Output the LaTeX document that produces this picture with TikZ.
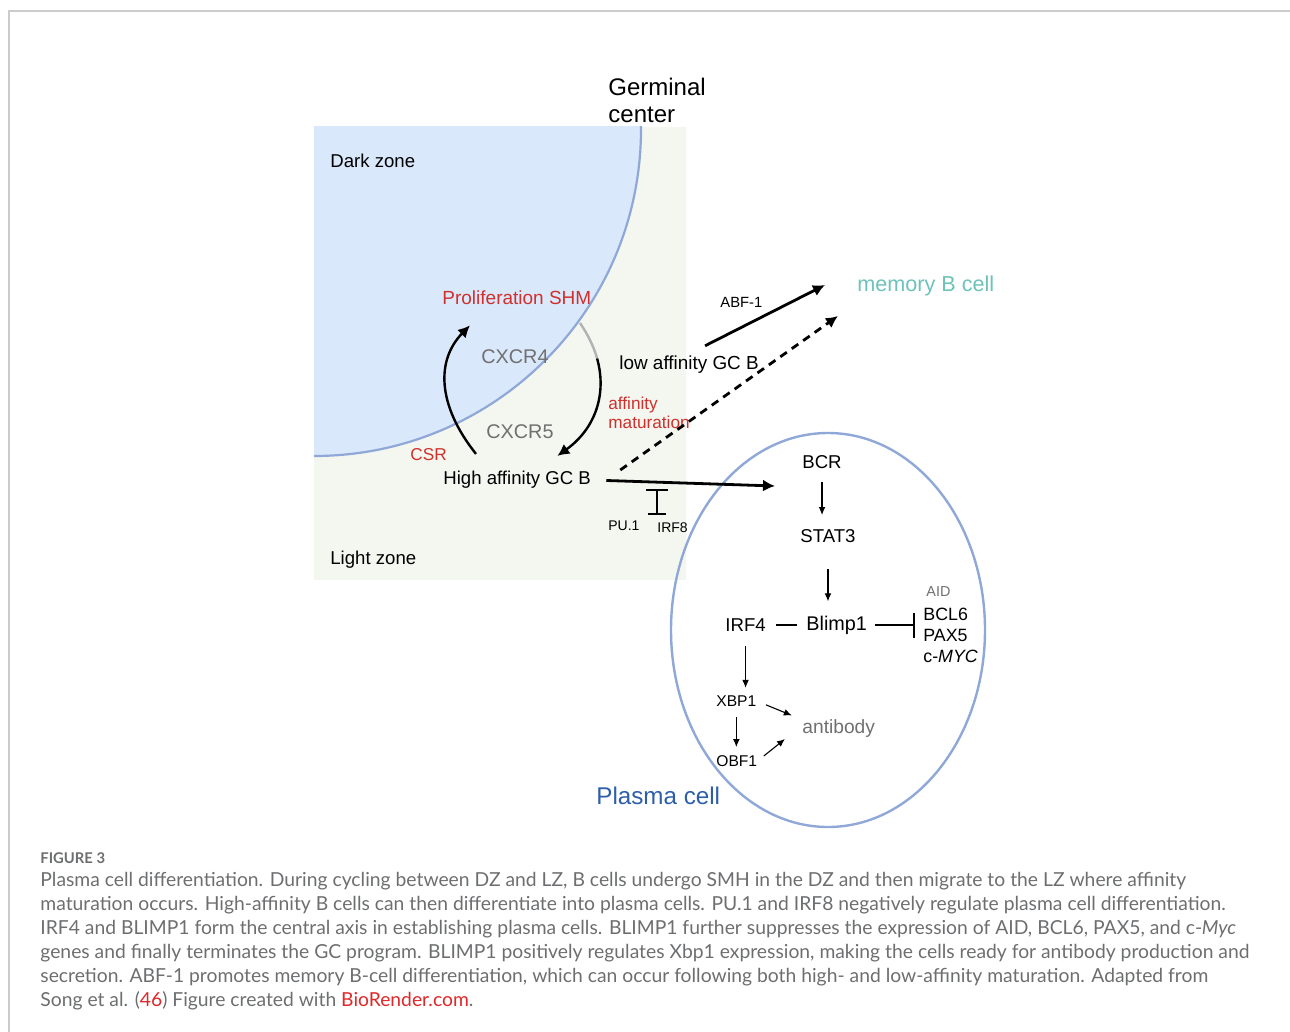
\documentclass[tikz,border=0pt]{standalone}
\usepackage{fontspec}
\setmainfont{Liberation Sans}
\newfontfamily\capfont{Lato}
\usepackage{tikz}
\usetikzlibrary{arrows.meta,positioning,calc}
\definecolor{dzfill}{HTML}{DAE8FB}
\definecolor{cellline}{HTML}{8FA8D8}
\definecolor{lzfill}{HTML}{F4F6F0}
\definecolor{redtxt}{HTML}{D0302C}
\definecolor{graytxt}{HTML}{707070}
\definecolor{memtxt}{HTML}{6DC2B9}
\definecolor{pctxt}{HTML}{2E5EAA}
\definecolor{captxt}{HTML}{6D6E70}
\definecolor{linkred}{HTML}{E0282A}
\colorlet{framecol}{black!20}

\begin{document}
\begin{tikzpicture}[x=0.5pt, y=-0.5pt, >={Latex[length=6pt,width=6pt]}, line cap=butt]
\tikzstyle{lbl}=[inner sep=0pt, anchor=west, text=black]
\tikzstyle{gene}=[lbl, font=\fontsize{9.3}{11}\selectfont]
\tikzstyle{small}=[lbl, font=\fontsize{7.4}{9}\selectfont]
\tikzstyle{sig}=[->, >={Latex[length=4pt,width=3.4pt]}, line width=0.55pt]
\tikzstyle{bigarrow}=[->, line width=1.4pt]
\useasboundingbox (0,0) rectangle (1290,1032);

% frame of the figure box
\draw[framecol, line width=1pt] (9,1032) -- (9,11) -- (1290,11);

% germinal center: light zone + dark zone
\fill[lzfill] (314,127) rectangle (686,580);
\begin{scope}
\clip (314,127) rectangle (686,580);
\fill[dzfill] (314,129) circle [radius=327];
\draw[cellline, line width=1.1pt] (314,129) circle [radius=327];
\end{scope}

% plasma cell
\draw[cellline, line width=1.2pt] (828,630) ellipse [x radius=157, y radius=197];

\node[lbl, font=\fontsize{12}{13.5}\selectfont, align=left] (germ) at (608,100) {Germinal\\center};
\node[gene] (dz) at (330,161) {Dark zone};
\node[gene] (lz) at (330,560) {Light zone};
\node[gene, text=redtxt, font=\fontsize{9.5}{11}\selectfont] (prolif) at (442,298) {Proliferation SHM};
\node[lbl, text=graytxt, font=\fontsize{9.9}{12}\selectfont] (cxcr4) at (481,357) {CXCR4};
\node[lbl, text=graytxt, font=\fontsize{9.9}{12}\selectfont] (cxcr5) at (486,432) {CXCR5};
\node[lbl, text=redtxt, font=\fontsize{8.6}{10}\selectfont] (csr) at (410,455) {CSR};
\node[gene] (hiaff) at (443,480) {High affinity GC B};
\node[lbl, text=redtxt, font=\fontsize{8.6}{9.5}\selectfont, align=left] (affmat) at (608,413) {affinity\\maturation};
\node[gene, font=\fontsize{9.45}{11}\selectfont] (lowaff) at (619,365) {low affinity GC B};
\node[small] (abf) at (720,302) {ABF-1};
\node[lbl, text=memtxt, font=\fontsize{10.8}{13}\selectfont] (mem) at (857,286) {memory B cell};
\node[small, font=\fontsize{7}{9}\selectfont] (pu1) at (608,526) {PU.1};
\node[small, font=\fontsize{7}{9}\selectfont] (irf8) at (657,528) {IRF8};
\node[lbl, text=pctxt, font=\fontsize{12.1}{14}\selectfont] (plasma) at (596,796) {Plasma cell};

% inside the plasma cell
\node[gene] (bcr) at (802,462) {BCR};
\node[gene] (stat3) at (800,536) {STAT3};
\node[gene] (irf4) at (725,625) {IRF4};
\node[gene, font=\fontsize{9.9}{12}\selectfont] (blimp) at (806,625) {Blimp1};
\node[small, text=graytxt, font=\fontsize{7.2}{9}\selectfont] (aid) at (926,592) {AID};
\node[gene, font=\fontsize{8.9}{10.5}\selectfont, align=left] (genes) at (923,635) {BCL6\\PAX5\\c-\textit{MYC}};
\node[small, font=\fontsize{7.8}{9}\selectfont] (xbp1) at (716,701) {XBP1};
\node[small, font=\fontsize{7.8}{9}\selectfont] (obf1) at (716,761) {OBF1};
\node[gene, text=graytxt, font=\fontsize{9.6}{11}\selectfont] (ab) at (802,729) {antibody};

\coordinate (pcin) at (775,486);
\coordinate (memhi) at (825,285);
\coordinate (memlo) at (838,316);
\coordinate (inhtop) at (657,489);
\coordinate (inhbot) at (657,515);
\coordinate (fadeA) at (580,323);
\coordinate (fadeB) at (597.1,358.5);

% DZ <-> LZ cycling
\draw[->, line width=1.2pt] ($(hiaff.north west)+(33,-17)$) .. controls (437,405) and (436,360) .. ($(prolif.south west)+(28,20)$);
\draw[black!30, line width=1.2pt] (fadeA) .. controls (588,334.8) and (593.8,346.7) .. (fadeB);
\draw[->, line width=1.2pt] (fadeB) .. controls (607.1,394.1) and (595.3,428.8) .. ($(hiaff.north east)+(-34,-15)$);

% exits of the GC
\draw[bigarrow, shorten <=7.5pt] (hiaff.east) -- (pcin);
\draw[bigarrow, dash pattern=on 4pt off 3pt] ($(hiaff.east)+(29,-10)$) -- (memlo);
\draw[bigarrow] ($(lowaff.north)+(16,-10)$) -- (memhi);
\draw[line width=1.2pt, {Bar[width=9pt]}-{Bar[width=11pt]}] (inhbot) -- (inhtop);

% plasma cell program
\draw[sig, shorten <=6.5pt, shorten >=7pt] (bcr.south) -- (bcr.south |- stat3.north);
\draw[sig, shorten <=13pt, shorten >=7pt] (stat3.south) -- (stat3.south |- blimp.north);
\draw[line width=1pt, shorten <=5pt, shorten >=4.5pt] (irf4.east) -- (blimp.west);
\draw[line width=1pt, -{Bar[width=12.5pt]}, shorten <=4pt, shorten >=4pt] (blimp.east) -- (blimp.east -| genes.west);
\draw[sig, shorten <=7pt, shorten >=3.7pt] (irf4.south) -- (irf4.south |- xbp1.north);
\draw[sig, shorten <=5pt, shorten >=5.5pt] (xbp1.east) -- (ab.north west);
\draw[sig, shorten <=5pt, shorten >=4pt] (xbp1.south) -- (xbp1.south |- obf1.north);
\draw[sig, shorten <=4pt] (obf1.east) -- ($(ab.west)+(-17,10)$);

% caption
\node[inner sep=0pt, anchor=west, text=captxt, font=\capfont\bfseries\fontsize{7.4}{9}\selectfont] (fig) at (40,858) {FIGURE 3};
\node[inner sep=0pt, anchor=north west, text=captxt, align=left, font=\capfont\fontsize{9.65}{12}\selectfont] (cap) at (40,872)
{Plasma cell differentiation. During cycling between DZ and LZ, B cells undergo SMH in the DZ and then migrate to the LZ where affinity\\
maturation occurs. High-affinity B cells can then differentiate into plasma cells. PU.1 and IRF8 negatively regulate plasma cell differentiation.\\
IRF4 and BLIMP1 form the central axis in establishing plasma cells. BLIMP1 further suppresses the expression of AID, BCL6, PAX5, and c-\textit{Myc}\\
genes and finally terminates the GC program. BLIMP1 positively regulates Xbp1 expression, making the cells ready for antibody production and\\
secretion. ABF-1 promotes memory B-cell differentiation, which can occur following both high- and low-affinity maturation. Adapted from\\
Song et al. (\textcolor{linkred}{46}) Figure created with \textcolor{linkred}{BioRender.com}.};
\end{tikzpicture}
\end{document}
